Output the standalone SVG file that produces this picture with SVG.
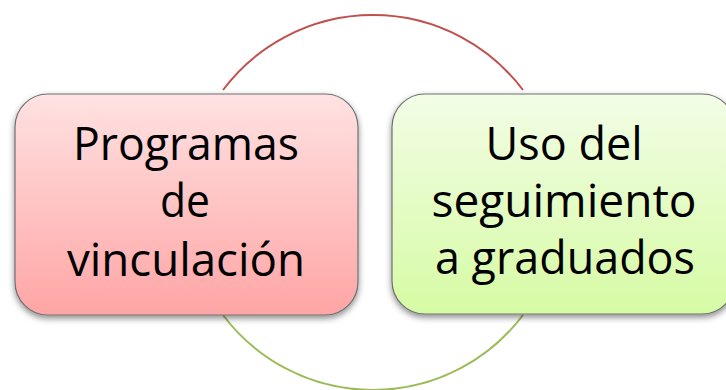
<svg xmlns="http://www.w3.org/2000/svg" width="726" height="390" viewBox="0 0 726 390">
<defs>
<linearGradient id="gRed" x1="0" y1="0" x2="0" y2="1">
<stop offset="0" stop-color="#FFE2E2"/>
<stop offset="1" stop-color="#FFA5A5"/>
</linearGradient>
<linearGradient id="gGreen" x1="0" y1="0" x2="0" y2="1">
<stop offset="0" stop-color="#F2FDE6"/>
<stop offset="1" stop-color="#D6FBA4"/>
</linearGradient>
<filter id="sh" x="-10%" y="-10%" width="120%" height="130%">
<feDropShadow dx="0" dy="3" stdDeviation="3" flood-color="#000" flood-opacity="0.45"/>
</filter>
</defs>
<style>
.box{stroke:#707070;stroke-width:1.2;filter:url(#sh)}
.t{font-family:"Open Sans",Lato,sans-serif;font-size:46px;fill:#000;text-anchor:middle}
.arc{fill:none;stroke-width:2}
</style>
<g id="connectors">
<path class="arc" stroke="#C0504D" d="M223,90 A187.5,187.5 0 0 1 523,90"/>
<path class="arc" stroke="#9BBB59" d="M223,315 A187.5,187.5 0 0 0 523,315"/>
</g>
<g id="node-programas">
<rect class="box" x="15" y="94" width="343" height="221" rx="33" fill="url(#gRed)"/>
<text class="t" x="186" y="160" textLength="226" lengthAdjust="spacingAndGlyphs">Programas</text>
<text class="t" x="185" y="217" textLength="50" lengthAdjust="spacingAndGlyphs">de</text>
<text class="t" x="186" y="276" textLength="238" lengthAdjust="spacingAndGlyphs">vinculación</text>
</g>
<g id="node-uso">
<rect class="box" x="392" y="94" width="343" height="220" rx="33" fill="url(#gGreen)"/>
<text class="t" x="564" y="160" textLength="157" lengthAdjust="spacingAndGlyphs">Uso del</text>
<text class="t" x="564" y="217" textLength="265" lengthAdjust="spacingAndGlyphs">seguimiento</text>
<text class="t" x="565" y="274" textLength="260" lengthAdjust="spacingAndGlyphs">a graduados</text>
</g>
</svg>
